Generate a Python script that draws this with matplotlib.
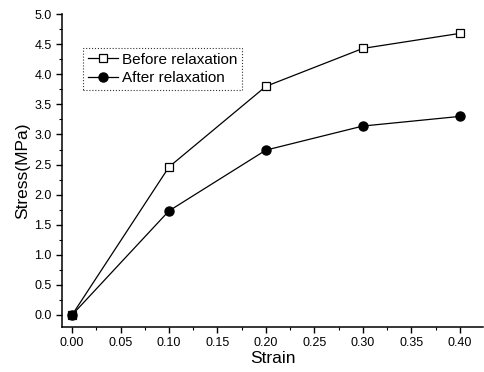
import matplotlib.pyplot as plt
from matplotlib.ticker import MultipleLocator

strain = [0.0, 0.1, 0.2, 0.3, 0.4]
stress_before = [0.0, 2.46, 3.80, 4.43, 4.68]
stress_after = [0.0, 1.73, 2.74, 3.14, 3.30]

plt.rcParams['font.family'] = ['Liberation Sans', 'DejaVu Sans']

fig = plt.figure(figsize=(4.85, 3.72), dpi=100)
ax = fig.add_axes([0.128, 0.121, 0.868, 0.841])

ax.plot(strain, stress_before, color='black', lw=0.9, marker='s', ms=5.5,
        mfc='white', mec='black', mew=0.9, label='Before relaxation')
ax.plot(strain, stress_after, color='black', lw=0.9, marker='o', ms=6.5,
        mfc='black', mec='black', label='After relaxation')

ax.set_xlim(-0.0103, 0.424)
ax.set_ylim(-0.2, 5.0)
ax.xaxis.set_major_locator(MultipleLocator(0.05))
ax.xaxis.set_minor_locator(MultipleLocator(0.025))
ax.yaxis.set_major_locator(MultipleLocator(0.5))
ax.yaxis.set_minor_locator(MultipleLocator(0.25))
ax.xaxis.set_major_formatter(plt.FormatStrFormatter('%.2f'))
ax.yaxis.set_major_formatter(plt.FormatStrFormatter('%.1f'))

ax.spines['top'].set_visible(False)
ax.spines['right'].set_visible(False)
ax.spines['left'].set_linewidth(1.1)
ax.spines['bottom'].set_linewidth(1.1)
ax.tick_params(which='major', direction='out', length=4, width=1.0, labelsize=9)
ax.tick_params(which='minor', direction='out', length=2, width=0.8)

ax.set_xlabel('Strain', fontsize=12.5, labelpad=1)
ax.set_ylabel('Stress(MPa)', fontsize=12.5, labelpad=3)

leg = ax.legend(loc='upper left', bbox_to_anchor=(0.05, 0.891), fontsize=11,
                frameon=True, fancybox=False, borderpad=0.3, handlelength=2.0,
                handletextpad=0.25, labelspacing=0.3, borderaxespad=0)
leg.get_frame().set_edgecolor('black')
leg.get_frame().set_linestyle(':')
leg.get_frame().set_linewidth(0.8)

fig.savefig('out.png', dpi=100)
